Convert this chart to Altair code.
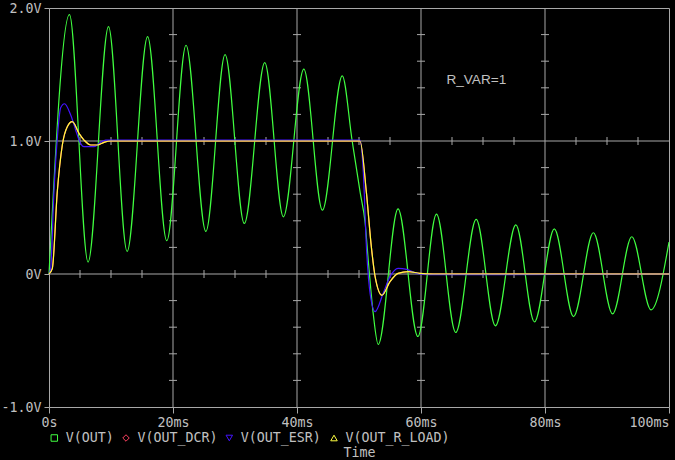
import altair as alt
import pandas as pd

# ---- axis ticks / labels ----
x_ticks = [0, 20, 40, 60, 80, 100]
x_tick_labels = ["0s", "20ms", "40ms", "60ms", "80ms", "100ms"]
y_ticks = [-1, 0, 1, 2]
y_tick_labels = ["-1.0V", "0V", "1.0V", "2.0V"]
x_minor = [5, 10, 15, 25, 30, 35, 45, 50, 55, 65, 70, 75, 85, 90, 95]
y_minor = [-0.8, -0.6, -0.4, -0.2, 0.2, 0.4, 0.6, 0.8, 1.2, 1.4, 1.6, 1.8]
x_grid = [20, 40, 60, 80]
y_grid = [0, 1]

# ---- series (time in ms, voltage in V) ----
out_t = [0, 3.3, 6.3, 9.6, 12.6, 15.9, 19.0, 22.1, 25.3, 28.4, 31.5, 34.8, 37.8,
         41.1, 44.1, 47.3, 48.9, 50.2, 51.0, 51.5, 52.3, 53.1, 56.3, 59.5, 62.5,
         65.6, 68.9, 72.0, 75.3, 78.3, 81.5, 84.6, 87.8, 90.9, 94.0, 97.1, 100]
out_v = [0.0, 1.95, 0.09, 1.86, 0.17, 1.785, 0.25, 1.72, 0.32, 1.65, 0.38, 1.59, 0.43,
         1.54, 0.48, 1.49, 1.0, 0.61, 0.38, 0.10, -0.30, -0.53, 0.49, -0.47, 0.45,
         -0.44, 0.41, -0.39, 0.37, -0.36, 0.34, -0.32, 0.31, -0.30, 0.28, -0.27, 0.24]

esr_t = [0, 0.27, 0.8, 1.34, 1.88, 2.5, 3.5, 4.3, 4.84, 5.65, 7.26, 8.33, 9.14,
         50.16, 50.7, 51.2, 51.8, 52.6, 53.9, 55.0, 56.3, 57.7, 59.3, 61.2, 100]
esr_v = [0.0, 0.04, 0.62, 1.02, 1.25, 1.28, 1.195, 1.083, 1.008, 0.957, 0.957, 0.99, 1.007,
         1.007, 0.76, 0.2, -0.15, -0.283, -0.145, -0.02, 0.043, 0.035, 0.005, -0.005, 0.0]

load_t = [0, 0.53, 1.34, 2.15, 2.95, 3.76, 4.84, 5.65, 6.72, 7.8, 8.87, 9.95,
          50.16, 51.2, 52.0, 52.6, 53.7, 55.0, 56.3, 57.95, 59.8, 62.0, 100]
load_v = [0.0, 0.04, 0.62, 0.97, 1.107, 1.145, 1.057, 1.007, 0.97, 0.97, 0.99, 1.0,
          1.0, 0.61, 0.2, -0.02, -0.16, -0.058, 0.005, 0.018, 0.005, 0.0, 0.0]

dcr_t = [0, 0.53, 1.34, 2.15, 2.95, 3.76, 4.84, 5.65, 6.72, 7.8, 8.87, 9.95,
         50.16, 51.2, 52.0, 52.6, 53.7, 55.0, 56.3, 57.95, 59.8, 62.0, 100]
dcr_v = [0.0, 0.04, 0.62, 0.97, 1.107, 1.145, 1.057, 1.007, 0.97, 0.97, 0.99, 1.0,
         1.0, 0.61, 0.2, -0.02, -0.16, -0.058, 0.005, 0.018, 0.005, 0.0, 0.0]

series_names = ["V(OUT)", "V(OUT_DCR)", "V(OUT_ESR)", "V(OUT_R_LOAD)"]
series_colors = ["#40ff40", "#ff4060", "#4414ff", "#ffff40"]
series_shapes = ["square", "diamond", "triangle-down", "triangle-up"]
series_data = [(out_t, out_v), (dcr_t, dcr_v), (esr_t, esr_v), (load_t, load_v)]

annotation = "R_VAR=1"
annotation_pos = (64.1, 1.46)

# ---- styles ----
MONO = "DejaVu Sans Mono"
TEXT = "#c0c0c0"
GRID = "#a8a8a8"
FS = 13.3


def label_expr(vals, labels):
    expr = "''"
    for v, l in reversed(list(zip(vals, labels))):
        expr = f"(datum.value == {v} ? '{l}' : {expr})"
    return expr


X = alt.X(
    "t:Q",
    scale=alt.Scale(domain=[0, 100], nice=False, zero=False),
    axis=alt.Axis(
        values=x_ticks, labelExpr=label_expr(x_ticks, x_tick_labels),
        labelFont=MONO, labelFontSize=FS, labelColor=TEXT, labelFlush=False,
        labelAlign={"condition": {"test": "datum.value >= 100", "value": "right"}, "value": "center"},
        labelPadding=2, tickSize=6, tickColor=GRID, domain=False, grid=False,
        title="Time", titleFont=MONO, titleFontSize=FS, titleFontWeight="normal",
        titleColor=TEXT, titleX=310, titleY=45.5, titleBaseline="middle", titleAlign="center",
    ),
)
Y = alt.Y(
    "v:Q",
    scale=alt.Scale(domain=[-1, 2], nice=False, zero=False),
    axis=alt.Axis(
        values=y_ticks, labelExpr=label_expr(y_ticks, y_tick_labels),
        labelFont=MONO, labelFontSize=FS, labelColor=TEXT, labelPadding=3,
        tickSize=5, tickColor=GRID, domain=False, grid=False, title=None,
    ),
)

layers = []

# grid lines
layers.append(alt.Chart(pd.DataFrame({"t": x_grid})).mark_rule(color=GRID, strokeWidth=1).encode(x=X))
layers.append(alt.Chart(pd.DataFrame({"v": y_grid})).mark_rule(color=GRID, strokeWidth=1).encode(y=Y))

# minor ticks on horizontal grid lines
hm = pd.DataFrame([{"t": t, "v": v} for v in y_grid for t in x_minor])
layers.append(
    alt.Chart(hm).mark_rule(color=GRID, strokeWidth=1, yOffset=-4, y2Offset=4)
    .encode(x=X, y=Y, y2="v:Q")
)
# minor ticks on vertical grid lines
vm = pd.DataFrame([{"t": t, "v": v} for t in x_grid for v in y_minor])
layers.append(
    alt.Chart(vm).mark_rule(color=GRID, strokeWidth=1, xOffset=-4, x2Offset=4)
    .encode(x=X, x2="t:Q", y=Y)
)

# traces
for name, color, (ts, vs) in zip(series_names, series_colors, series_data):
    df = pd.DataFrame({"t": ts, "v": vs})
    layers.append(
        alt.Chart(df).mark_line(color=color, strokeWidth=1.2, interpolate="monotone")
        .encode(x=X, y=Y)
    )

# annotation
layers.append(
    alt.Chart(pd.DataFrame({"t": [annotation_pos[0]], "v": [annotation_pos[1]], "label": [annotation]}))
    .mark_text(font="Liberation Sans", fontSize=13.6, color=TEXT, align="left", baseline="middle")
    .encode(x=X, y=Y, text="label:N")
)

# legend (manual, below the axis)
legend_sym_x = [5.3, 77.0, 180.3, 285.0]
legend_y = 430
one = pd.DataFrame({"a": [0]})
for name, color, shape, sx in zip(series_names, series_colors, series_shapes, legend_sym_x):
    layers.append(
        alt.Chart(one).mark_point(shape=shape, filled=False, color=color, size=42, strokeWidth=1, opacity=1)
        .encode(x=alt.value(sx), y=alt.value(legend_y))
    )
    layers.append(
        alt.Chart(one).mark_text(text=name, font=MONO, fontSize=FS, color=TEXT, align="left", baseline="middle")
        .encode(x=alt.value(sx + 11.4), y=alt.value(legend_y - 0.5))
    )

chart = (
    alt.layer(*layers)
    .properties(
        width=620, height=399,
        padding={"left": 49, "top": 8, "right": 6, "bottom": 53},
        autosize=alt.AutoSizeParams(type="none"),
        background="#000000",
    )
    .configure_view(stroke=GRID, strokeWidth=1)
)

chart.save("out.html", embed_options={"renderer": "svg", "actions": False,
                                      "defaultStyle": "body{margin:0;background:#000;}"})
